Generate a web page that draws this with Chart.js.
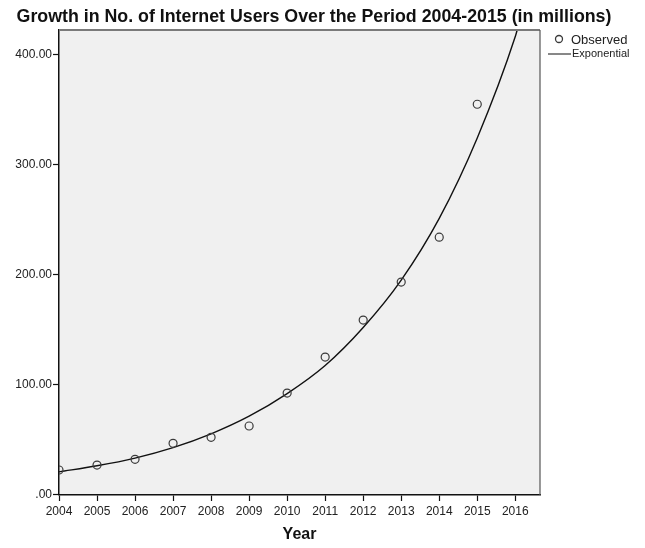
<!DOCTYPE html>
<html>
<head>
    <script src="https://cdn.jsdelivr.net/npm/chart.js@4.4.0/dist/chart.umd.min.js"></script>
    <style>
    body { margin: 0; background: #fff; }
    #wrap { width: 645px; height: 548px; }
    </style>
    <title>Internet Users Growth</title>
</head>
<body>
<div id="wrap"><canvas id="myChart" width="645" height="548"></canvas></div>
<script>
    var years = [2004, 2005, 2006, 2007, 2008, 2009, 2010, 2011, 2012, 2013, 2014, 2015];
    var observed = [22.7, 27.2, 32.4, 46.9, 52.3, 62.6, 92.5, 125.2, 158.7, 193.2, 234.0, 354.6];

    // exponential fit line
    var fitYears = [2004, 2005, 2006, 2007, 2008, 2009, 2010, 2011, 2012, 2013, 2014, 2015, 2016, 2016.05];
    var fitValues = [21, 26.5, 33.5, 43, 55.5, 71.5, 92, 117.5, 152, 195, 251, 324, 416, 422];

    var xTicks = [2004, 2005, 2006, 2007, 2008, 2009, 2010, 2011, 2012, 2013, 2014, 2015, 2016];
    var yTicks = [0, 100, 200, 300, 400];

    var obsPts = [];
    for (let i = 0; i < years.length; i++) {
        obsPts.push({x: years[i], y: observed[i]});
    }
    var fitPts = [];
    for (let i = 0; i < fitYears.length; i++) {
        fitPts.push({x: fitYears[i], y: fitValues[i]});
    }

    // plot background, top/right frame and the legend on the right
    var framePlugin = {
        id: 'frame',
        beforeDraw: function(chart) {
            var a = chart.chartArea, c = chart.ctx;
            c.save();
            c.fillStyle = '#f0f0f0';
            c.fillRect(a.left, a.top, a.right - a.left, a.bottom - a.top);
            c.restore();
        },
        afterDraw: function(chart) {
            var a = chart.chartArea, c = chart.ctx;
            c.save();
            c.strokeStyle = '#7a7a7a';
            c.lineWidth = 2;
            c.beginPath();
            c.moveTo(a.left, a.top);
            c.lineTo(a.right, a.top);
            c.stroke();
            c.strokeStyle = '#555';
            c.lineWidth = 1.2;
            c.beginPath();
            c.moveTo(a.right, a.top);
            c.lineTo(a.right, a.bottom);
            c.stroke();

            // legend
            var ds = chart.data.datasets;
            c.strokeStyle = ds[0].borderColor;
            c.lineWidth = 1.3;
            c.beginPath();
            c.arc(559, 39, 3.5, 0, Math.PI * 2);
            c.stroke();
            c.fillStyle = '#222';
            c.font = '13px "Liberation Sans", Arial, sans-serif';
            c.textBaseline = 'middle';
            c.fillText(ds[0].label, 571, 40);
            c.strokeStyle = ds[1].borderColor;
            c.lineWidth = 1;
            c.beginPath();
            c.moveTo(548, 54);
            c.lineTo(571, 54);
            c.stroke();
            c.font = '11px "Liberation Sans", Arial, sans-serif';
            c.fillText(ds[1].label, 572, 54);
            c.restore();
        }
    };

    var ctx = document.getElementById('myChart').getContext('2d');
    var myChart = new Chart(ctx, {
        type: 'scatter',
        data: {
            datasets: [
                {
                    label: 'Observed',
                    data: obsPts,
                    showLine: false,
                    pointRadius: 4,
                    pointHoverRadius: 4,
                    pointBackgroundColor: 'rgba(0,0,0,0)',
                    borderColor: '#3a3a3a',
                    pointBorderWidth: 1.2
                },
                {
                    label: 'Exponential',
                    data: fitPts,
                    showLine: true,
                    pointRadius: 0,
                    borderColor: '#111',
                    borderWidth: 1.4,
                    cubicInterpolationMode: 'monotone'
                }
            ]
        },
        options: {
            responsive: false,
            animation: false,
            layout: { padding: { left: 0, right: 17, top: 0, bottom: 0 } },
            plugins: {
                legend: { display: false },
                tooltip: { enabled: false },
                title: {
                    display: true,
                    text: 'Growth in No. of Internet Users Over the Period 2004-2015 (in millions)',
                    color: '#111',
                    font: { family: '"Liberation Sans", Arial, sans-serif', size: 17.8, weight: 'bold' },
                    padding: { top: 6.5, bottom: 2.1 }
                }
            },
            scales: {
                x: {
                    type: 'linear',
                    min: 2004,
                    max: 2016.65,
                    afterBuildTicks: function(scale) {
                        scale.ticks = xTicks.map(function(v) { return {value: v}; });
                    },
                    afterFit: function(scale) { scale.height = 53; },
                    border: { color: '#111', width: 1.5 },
                    grid: { drawOnChartArea: false, tickLength: 6, color: '#111', tickWidth: 1.2 },
                    ticks: {
                        color: '#222',
                        padding: 3,
                        maxRotation: 0,
                        font: { family: '"Liberation Sans", Arial, sans-serif', size: 12 },
                        callback: function(v) { return String(v); }
                    },
                    title: {
                        display: true,
                        text: 'Year',
                        color: '#111',
                        font: { family: '"Liberation Sans", Arial, sans-serif', size: 16, weight: 'bold' }
                    }
                },
                y: {
                    min: 0,
                    max: 422,
                    afterBuildTicks: function(scale) {
                        scale.ticks = yTicks.map(function(v) { return {value: v}; });
                    },
                    afterFit: function(scale) { scale.width = 59; },
                    border: { color: '#111', width: 1.5 },
                    grid: { drawOnChartArea: false, tickLength: 6, color: '#111', tickWidth: 1.2 },
                    ticks: {
                        color: '#222',
                        padding: 1,
                        font: { family: '"Liberation Sans", Arial, sans-serif', size: 12 },
                        callback: function(v) { return v === 0 ? '.00' : v.toFixed(2); }
                    }
                },
                // empty space on the right that holds the legend
                side: {
                    position: 'right',
                    display: true,
                    afterFit: function(scale) { scale.width = 88; },
                    border: { display: false },
                    grid: { display: false },
                    ticks: { display: false }
                }
            }
        },
        plugins: [framePlugin]
    });
</script>
</body>
</html>
